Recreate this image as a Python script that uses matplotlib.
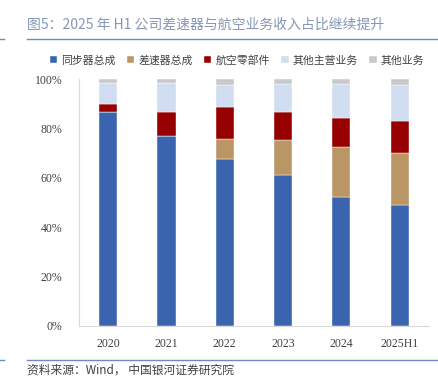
import matplotlib.pyplot as plt
import numpy as np

plt.rcParams["font.family"] = ["Noto Sans CJK SC", "DejaVu Sans"]

# ---------------------------------------------------------------------------
# Data (share of revenue, %)
# ---------------------------------------------------------------------------

YEARS = ["2020", "2021", "2022", "2023", "2024", "2025H1"]

SYNCHRONIZER  = [86.9, 77.1, 67.6, 61.3, 52.4, 48.9]
DIFFERENTIAL  = [0.0, 0.0, 8.2, 14.1, 20.0, 21.2]
AVIATION      = [3.1, 9.5, 13.1, 11.3, 11.9, 13.1]
OTHER_MAIN    = [8.6, 11.9, 8.8, 11.4, 13.8, 14.6]
OTHER         = [1.4, 1.5, 2.3, 1.9, 1.9, 2.2]

SERIES = [
    ("同步器总成",   SYNCHRONIZER, "#3A64AE"),
    ("差速器总成",   DIFFERENTIAL, "#B99664"),
    ("航空零部件",   AVIATION,     "#960000"),
    ("其他主营业务", OTHER_MAIN,   "#D1DDF0"),
    ("其他业务",     OTHER,        "#C9C9C9"),
]

TITLE  = "图5：2025 年 H1 公司差速器与航空业务收入占比继续提升"
SOURCE = "资料来源：Wind， 中国银河证券研究院"

TITLE_COLOR = "#8497B8"
LINE_COLOR  = "#6F8AC0"

# ---------------------------------------------------------------------------
# Plot
# ---------------------------------------------------------------------------

fig = plt.figure(figsize=(4.39, 3.79), dpi=100)
ax = fig.add_axes([0.180, 0.140, 0.797, 0.651])

x = np.arange(len(YEARS))
bottom = np.zeros(len(YEARS))
for label, vals, color in SERIES:
    v = np.array(vals) / 100
    ax.bar(x, v, width=0.31, bottom=bottom, color=color, label=label,
           edgecolor="white", linewidth=0.3)
    bottom += v

ax.set_xlim(-0.5, len(YEARS) - 0.5)
ax.set_ylim(0, 1)
ax.set_yticks(np.arange(0, 1.01, 0.2))
ax.set_yticklabels([f"{int(round(t * 100))}%" for t in np.arange(0, 1.01, 0.2)],
                   family=["Liberation Serif"], fontsize=8.5, color="#404040")
ax.set_xticks(x)
ax.set_xticklabels(YEARS, family=["Liberation Serif"], fontsize=8.5, color="#404040")
ax.tick_params(axis="both", length=0)
ax.tick_params(axis="x", pad=9)
ax.tick_params(axis="y", pad=12)

for side in ["top", "right"]:
    ax.spines[side].set_visible(False)
for side in ["left", "bottom"]:
    ax.spines[side].set_color("#D9D9D9")
    ax.spines[side].set_linewidth(0.8)

fig.legend(loc="center", bbox_to_anchor=(237 / 439, 1 - 60 / 379), ncol=5,
           frameon=False, fontsize=7.8, handlelength=0.7, handleheight=0.7,
           handletextpad=0.4, columnspacing=1.0, labelcolor="#404040",
           borderpad=0, borderaxespad=0)

# title, rules and source
fig.text(27 / 439, 1 - 25 / 379, TITLE, fontsize=10, color=TITLE_COLOR,
         va="center", ha="left")
for yy in [38.5, 359.5]:
    fig.add_artist(plt.Line2D([27 / 439, 1], [1 - yy / 379] * 2,
                              color=LINE_COLOR, linewidth=1.0))
    fig.add_artist(plt.Line2D([0, 4 / 439], [1 - yy / 379] * 2,
                              color=LINE_COLOR, linewidth=1.0))
fig.text(27 / 439, 1 - 370 / 379, SOURCE, fontsize=8.5, color="#404040",
         va="center", ha="left", style="italic")

fig.savefig("out.png", dpi=100)
